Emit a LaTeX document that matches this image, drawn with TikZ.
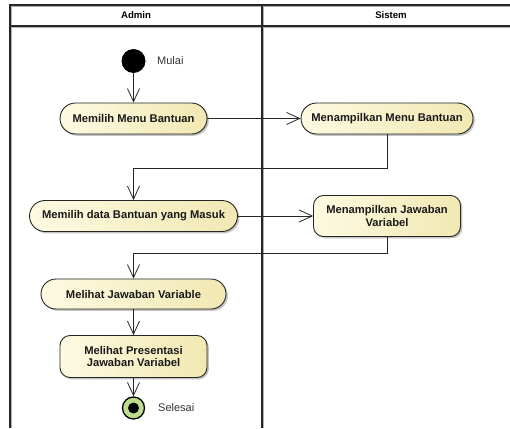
\documentclass[tikz,border=0pt]{standalone}
\usepackage{fontspec}
\setmainfont{Liberation Sans}
\usetikzlibrary{arrows.meta,shadows,calc}

\definecolor{actlight}{RGB}{253,250,226}
\definecolor{actdark}{RGB}{241,232,178}
\definecolor{endgreen}{RGB}{190,221,140}
\newcommand\actfont{\fontsize{11.2}{12.8}\selectfont\bfseries}
\newcommand\lanefont{\fontsize{9.6}{11}\selectfont\bfseries}
\newcommand\notefont{\fontsize{11}{13}\selectfont}

\tikzset{
  lane/.style={draw=black!85, line width=1.3pt},
  laneshade/.style={draw=black!30, line width=1.3pt},
  act/.style={draw=black!85, line width=0.9pt, left color=actlight, right color=actdark,
    font=\actfont, text=black!90, align=center, inner sep=0pt,
    drop shadow={shadow xshift=1.8pt, shadow yshift=-1.8pt, fill=black!40, opacity=0.6}},
  actone/.style={act, rounded corners=15.5pt, minimum height=31pt},
  acttwo/.style={act, rounded corners=10pt, minimum height=41pt},
  flow/.style={draw=black!85, line width=0.8pt, -{Straight Barb[length=13pt,width=12pt]}},
  note/.style={font=\notefont, text=black!80, anchor=west, inner sep=0pt},
}

\begin{document}
\begin{tikzpicture}[x=1pt, y=-1pt]
\useasboundingbox (0,0) rectangle (510,428);

% swimlane frame with its soft shade
\draw[laneshade] (11.5,428) -- (11.5,6.5) -- (520,6.5);
\draw[laneshade] (11.5,27.5) -- (520,27.5);
\draw[laneshade] (263.5,6.5) -- (263.5,428);
\draw[lane] (10,428) -- (10,5) -- (520,5);
\draw[lane] (10,26) -- (520,26);
\draw[lane] (262,5) -- (262,428);
\node[font=\lanefont] (laneA) at (136,15.5) {Admin};
\node[font=\lanefont] (laneS) at (391,15.5) {Sistem};

% start and end points
\node[circle, fill=black, minimum size=24pt, inner sep=0pt] (start) at (133.5,61) {};
\node[note] (startlbl) at (157,61) {Mulai};
\node[circle, draw=black, line width=1.3pt, fill=endgreen, minimum size=22pt, inner sep=0pt] (end) at (133.5,408) {};
\node[circle, fill=black, minimum size=11pt, inner sep=0pt] (endcore) at (end.center) {};
\node[note] (endlbl) at (158,408) {Selesai};

% activities
\node[actone, minimum width=147pt] (n1) at (133.5,118.5) {Memilih Menu Bantuan};
\node[actone, minimum width=172pt] (n2) at (387,118.5) {Menampilkan Menu Bantuan};
\node[actone, minimum width=208pt] (n3) at (133.5,216) {Memilih data Bantuan yang Masuk};
\node[acttwo, minimum width=147pt] (n4) at (387,216) {Menampilkan Jawaban\\Variabel};
\node[actone, minimum width=185pt, minimum height=30pt, rounded corners=15pt] (n5) at (133.5,294) {Melihat Jawaban Variable};
\node[acttwo, minimum width=147pt, minimum height=42pt] (n6) at (133.5,356.5) {Melihat Presentasi\\Jawaban Variabel};

% control flow
\draw[flow] (start) -- (n1);
\draw[flow] (n1) -- (n2);
\draw[flow] (n2.south) -- ++(0,34) -| (n3.north);
\draw[flow] (n3) -- (n4);
\draw[flow] (n4.south) -- ++(0,16) -| (n5.north);
\draw[flow] (n5) -- (n6);
\draw[flow] (n6) -- (end);
\end{tikzpicture}
\end{document}
